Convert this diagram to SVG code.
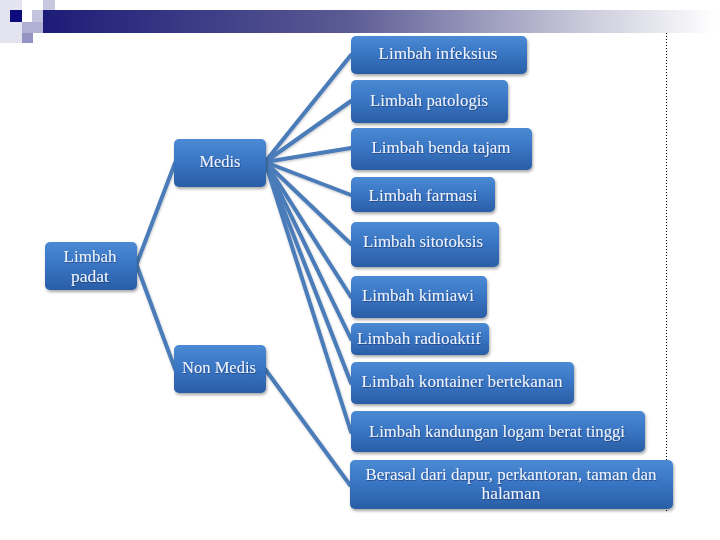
<svg xmlns="http://www.w3.org/2000/svg" width="720" height="540" viewBox="0 0 720 540">
<defs>
<linearGradient id="bar" x1="0" y1="0" x2="1" y2="0">
<stop offset="0" stop-color="#1c1c78"/>
<stop offset="0.45" stop-color="#5a5a94"/>
<stop offset="0.8" stop-color="#c8c8da"/>
<stop offset="1" stop-color="#ffffff"/>
</linearGradient>
<linearGradient id="box" x1="0" y1="0" x2="0" y2="1">
<stop offset="0" stop-color="#4b8ad4"/>
<stop offset="0.5" stop-color="#3874c2"/>
<stop offset="1" stop-color="#2a5ea6"/>
</linearGradient>
<filter id="sh" x="-10%" y="-20%" width="125%" height="150%">
<feDropShadow dx="1" dy="2" stdDeviation="1.5" flood-color="#000" flood-opacity="0.35"/>
</filter>
<filter id="lsh" x="-10%" y="-10%" width="120%" height="120%">
<feDropShadow dx="0.5" dy="1" stdDeviation="1" flood-color="#000" flood-opacity="0.25"/>
</filter>
<filter id="tsh" x="-5%" y="-30%" width="110%" height="160%">
<feDropShadow dx="0.6" dy="0.8" stdDeviation="0.5" flood-color="#0a1e4a" flood-opacity="0.6"/>
</filter>
</defs>
<style>
.box{fill:url(#box);filter:url(#sh);}
.t{font-family:'Liberation Serif','Times New Roman',serif;font-size:17.5px;fill:#eef4ff;text-anchor:middle;filter:url(#tsh);}
.s{font-size:16.5px;}
.c{stroke:#4a7bb8;stroke-width:4;fill:none;stroke-linecap:round;}
</style>
<rect x="0" y="0" width="720" height="540" fill="#ffffff"/>
<g id="decor">
<rect x="0" y="0" width="22" height="43" fill="#e4e4f0"/>
<rect x="43" y="0" width="12" height="10" fill="#c8c8e0"/>
<rect x="32" y="10" width="11" height="12" fill="#c4c4de"/>
<rect x="43" y="10" width="12" height="12" fill="#a4a4cc"/>
<rect x="22" y="22" width="21" height="11" fill="#b0b0d4"/>
<rect x="22" y="33" width="11" height="10" fill="#9494c4"/>
<rect x="10" y="10" width="12" height="12" fill="#0c0c7c"/>
<rect x="43" y="10" width="672" height="23" fill="url(#bar)"/>
<line x1="666.5" y1="33" x2="666.5" y2="512" stroke="#000" stroke-width="1" stroke-dasharray="1,2"/>
</g>
<g id="connectors" filter="url(#lsh)">
<line class="c" x1="137" y1="263" x2="175" y2="163"/>
<line class="c" x1="137" y1="266" x2="175" y2="369"/>
<line class="c" x1="265" y1="162" x2="351" y2="55"/>
<line class="c" x1="265" y1="162" x2="351" y2="101"/>
<line class="c" x1="265" y1="162" x2="351" y2="148"/>
<line class="c" x1="265" y1="162" x2="351" y2="195"/>
<line class="c" x1="265" y1="162" x2="351" y2="244"/>
<line class="c" x1="265" y1="162" x2="351" y2="297"/>
<line class="c" x1="265" y1="162" x2="351" y2="339"/>
<line class="c" x1="265" y1="162" x2="351" y2="383"/>
<line class="c" x1="265" y1="162" x2="351" y2="432"/>
<line class="c" x1="265" y1="369" x2="350" y2="485"/>
</g>
<g id="n-padat"><rect class="box" x="45" y="242" width="92" height="48" rx="5"/>
<text class="t" x="90" y="262" textLength="53" lengthAdjust="spacingAndGlyphs">Limbah</text>
<text class="t" x="90" y="282" textLength="38" lengthAdjust="spacingAndGlyphs">padat</text></g>
<g id="n-medis"><rect class="box" x="174" y="139" width="92" height="48" rx="5"/>
<text class="t" x="220" y="167" textLength="41" lengthAdjust="spacingAndGlyphs">Medis</text></g>
<g id="n-nonmedis"><rect class="box" x="174" y="345" width="92" height="48" rx="5"/>
<text class="t" x="219" y="373" textLength="74" lengthAdjust="spacingAndGlyphs">Non Medis</text></g>
<g id="n-infeksius"><rect class="box" x="351" y="36" width="176" height="38" rx="5"/>
<text class="t" x="438" y="59" textLength="119" lengthAdjust="spacingAndGlyphs">Limbah infeksius</text></g>
<g id="n-patologis"><rect class="box" x="351" y="80" width="157" height="43" rx="5"/>
<text class="t" x="429" y="106" textLength="118" lengthAdjust="spacingAndGlyphs">Limbah patologis</text></g>
<g id="n-tajam"><rect class="box" x="351" y="128" width="181" height="42" rx="5"/>
<text class="t" x="441" y="153" textLength="139" lengthAdjust="spacingAndGlyphs">Limbah benda tajam</text></g>
<g id="n-farmasi"><rect class="box" x="351" y="177" width="144" height="35" rx="5"/>
<text class="t" x="423" y="200.5" textLength="109" lengthAdjust="spacingAndGlyphs">Limbah farmasi</text></g>
<g id="n-sitotoksis"><rect class="box" x="351" y="222" width="148" height="45" rx="5"/>
<text class="t" x="423" y="247" textLength="120" lengthAdjust="spacingAndGlyphs">Limbah sitotoksis</text></g>
<g id="n-kimiawi"><rect class="box" x="351" y="276" width="136" height="42" rx="5"/>
<text class="t" x="418" y="301" textLength="112" lengthAdjust="spacingAndGlyphs">Limbah kimiawi</text></g>
<g id="n-radioaktif"><rect class="box" x="351" y="323" width="138" height="32" rx="5"/>
<text class="t" x="419" y="344" textLength="124" lengthAdjust="spacingAndGlyphs">Limbah radioaktif</text></g>
<g id="n-kontainer"><rect class="box" x="351" y="362" width="223" height="42" rx="5"/>
<text class="t" x="462" y="387" textLength="201" lengthAdjust="spacingAndGlyphs">Limbah kontainer bertekanan</text></g>
<g id="n-logam"><rect class="box" x="351" y="411" width="294" height="41" rx="5"/>
<text class="t" x="497" y="436.5" textLength="256" lengthAdjust="spacingAndGlyphs">Limbah kandungan logam berat tinggi</text></g>
<g id="n-berasal"><rect class="box" x="350" y="460" width="323" height="49" rx="5"/>
<text class="t s" x="511" y="479.5" textLength="291" lengthAdjust="spacingAndGlyphs">Berasal dari dapur, perkantoran, taman dan</text>
<text class="t s" x="511" y="498.5" textLength="59" lengthAdjust="spacingAndGlyphs">halaman</text></g>
</svg>
